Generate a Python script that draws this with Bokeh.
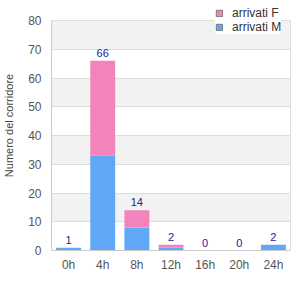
from bokeh.plotting import figure
from bokeh.models import (ColumnDataSource, Legend, LegendItem, FactorRange, Range1d,
                          LinearAxis, CDSView, IndexFilter)
from bokeh.core.properties import value
from bokeh.embed import file_html
from bokeh.resources import INLINE

categories = ["0h", "4h", "8h", "12h", "16h", "20h", "24h"]
arrivati_m = [1, 33, 8, 1, 0, 0, 2]
arrivati_f = [0, 33, 6, 1, 0, 0, 0]
totals = [m + f for m, f in zip(arrivati_m, arrivati_f)]
y_ticks = [0, 10, 20, 30, 40, 50, 60, 70, 80]

PINK = "#f383bb"
BLUE = "#60a8f5"
FONT = "Liberation Sans"

src = ColumnDataSource(dict(
    cat=categories, m=arrivati_m, f=arrivati_f,
    tot=totals, lab=[str(t) for t in totals],
))

# frame spans from the top edge so the legend (which sits above the 80 line) is not clipped
y_top = 80 + 20 / (230 / 80)
p = figure(width=300, height=300, x_range=FactorRange(*categories), y_range=Range1d(0, y_top),
           output_backend="svg", toolbar_location=None,
           min_border_left=51, min_border_right=10, min_border_top=0, min_border_bottom=50)
p.background_fill_color = "white"
p.border_fill_color = "white"
p.outline_line_color = None

p.vbar_stack(["m", "f"], x="cat", width=0.73, source=src, color=[BLUE, PINK], line_color=None)

p.text(x="cat", y="tot", text="lab", source=src, text_align="center", text_baseline="bottom",
       y_offset=-4, text_font=value(FONT), text_font_size="11px", text_color="#222299")

# legend proxies: drawn on a hidden range far outside the frame, so only the legend shows them
p.extra_y_ranges = {"hidden": Range1d(1000, 2000)}
one = CDSView(filter=IndexFilter(indices=[0]))
rf = p.vbar(x="cat", top="tot", width=0.5, source=src, view=one, y_range_name="hidden",
            fill_color=PINK, line_color="#777777")
rm = p.vbar(x="cat", top="tot", width=0.5, source=src, view=one, y_range_name="hidden",
            fill_color=BLUE, line_color="#777777")
legend = Legend(items=[LegendItem(label="arrivati F", renderers=[rf]),
                       LegendItem(label="arrivati M", renderers=[rm])],
                location=(164, 216), orientation="vertical",
                background_fill_color="white", background_fill_alpha=1,
                border_line_color=None, label_text_font=FONT, label_text_font_size="12px",
                label_text_color="#333333", glyph_width=8, glyph_height=8,
                label_standoff=9, spacing=0, padding=4, margin=0, label_height=13)
p.add_layout(legend, "center")

p.xgrid.grid_line_color = None
p.ygrid.grid_line_color = "#dddddd"
p.ygrid.band_fill_color = "#f2f2f2"
p.ygrid.band_fill_alpha = 1

left = p.left[0]
left.ticker = y_ticks
left.bounds = (0, 80)

right_axis = LinearAxis(bounds=(0, 80), ticker=y_ticks, major_label_text_color=None,
                        major_label_text_font_size="1px", major_tick_line_color=None,
                        minor_tick_line_color=None, axis_line_color="#dddddd",
                        major_label_standoff=0, major_tick_out=0, major_tick_in=0)
p.add_layout(right_axis, "right")

bottom = p.below[0]
for ax in (bottom, left):
    ax.major_tick_line_color = None
    ax.minor_tick_line_color = None
    ax.major_tick_out = 0
    ax.major_tick_in = 0
    ax.axis_line_color = "#cccccc"
    ax.major_label_text_font = FONT
    ax.major_label_text_font_size = "12px"
    ax.major_label_text_color = "#555555"
bottom.major_label_standoff = 7
left.major_label_standoff = 10
left.axis_label = "Numero del corridore"
left.axis_label_text_font = FONT
left.axis_label_text_font_size = "11px"
left.axis_label_text_font_style = "normal"
left.axis_label_text_color = "#444444"
left.axis_label_standoff = 10

open("out.html", "w").write(file_html(p, INLINE))
